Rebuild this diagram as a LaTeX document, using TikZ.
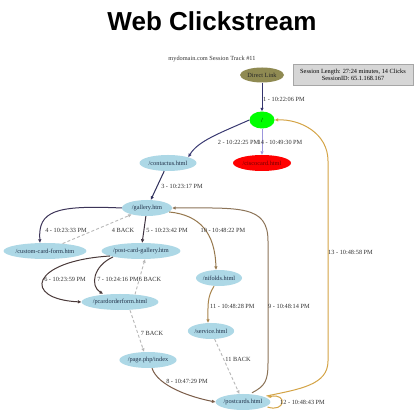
\documentclass[tikz,border=0pt]{standalone}
\usepackage{fontspec}
\setmainfont{Liberation Serif}
\newfontfamily\titlefont{Liberation Sans}
\usetikzlibrary{shapes.geometric,arrows.meta}
\definecolor{lb}{HTML}{ADD8E6}
\definecolor{pgtext}{HTML}{203048}
\definecolor{olivenode}{HTML}{8F8A52}
\definecolor{navy1}{HTML}{34346E}
\definecolor{navy2}{HTML}{3A3A72}
\definecolor{navy3}{HTML}{30305C}
\definecolor{purp4}{HTML}{3C3458}
\definecolor{dark5}{HTML}{3E3240}
\definecolor{brown6}{HTML}{4A3A3A}
\definecolor{brown8}{HTML}{7A5C48}
\definecolor{tan9}{HTML}{8C7458}
\definecolor{tan10}{HTML}{96784E}
\definecolor{gold11}{HTML}{A8844C}
\definecolor{gold12}{HTML}{D4A446}
\definecolor{lav}{HTML}{9C96DC}
\definecolor{backgray}{HTML}{B8B8B8}
\definecolor{boxgray}{HTML}{D6D6D6}
\begin{document}
\begin{tikzpicture}[x=1pt,y=1pt,
  pg/.style={ellipse, fill=lb, inner sep=0pt, minimum height=16pt, font=\fontsize{6.3}{7}\selectfont, text=pgtext},
  lbl/.style={font=\fontsize{6.3}{7}\selectfont, inner sep=0pt, text=black!80},
  edge/.style={line width=1pt, -{Triangle[length=3.5pt,width=3pt]}},
  back/.style={line width=0.9pt, dash pattern=on 3pt off 2.2pt, draw=backgray, -{Triangle[length=3.5pt,width=3pt]}},
]
\useasboundingbox (0,0) rectangle (414,411);
\fill[white] (0,0) rectangle (414,411);

% title and header
\node (title) at (212,390) {\titlefont\bfseries\fontsize{26}{30}\selectfont Web Clickstream};
\node[lbl] (track) at (212,352) {mydomain.com Session Track \#11};
\node[draw=gray!70, fill=boxgray, line width=0.6pt, minimum width=120pt, minimum height=21pt, inner sep=1pt, align=center, font=\fontsize{6.3}{7.2}\selectfont] (session) at (353,336.5) {Session Length: 27:24 minutes, 14 Clicks\\SessionID: 65.1.168.167};

% nodes
\node[ellipse, fill=olivenode, inner sep=0pt, minimum width=44pt, minimum height=15pt, font=\fontsize{6.3}{7}\selectfont, text=black!85] (direct) at (262,336) {Direct Link};
\node[ellipse, fill=green, inner sep=0pt, minimum width=25pt, minimum height=17pt, font=\fontsize{6.3}{7}\selectfont] (root) at (262,291) {/};
\node[ellipse, fill=red, inner sep=0pt, minimum width=58pt, minimum height=16pt, font=\fontsize{6.3}{7}\selectfont, text=red!45!black] (red) at (262,248) {/ciscocard.html};
\node[pg, minimum width=57pt] (contactus) at (168,248) {/contactus.html};
\node[pg, minimum width=50pt] (gallery) at (147,203) {/gallery.htm};
\node[pg, minimum width=78pt] (custom) at (45,160) {/custom-card-form.htm};
\node[pg, minimum width=66pt] (pcgallery) at (141,160) {/post-card-gallery.htm};
\node[pg, minimum width=46pt] (nifolds) at (219,133) {/nifolds.html};
\node[pg, minimum width=65pt] (pcard) at (120,109) {/pcardorderform.html};
\node[pg, minimum width=46pt] (service) at (211,80) {/service.html};
\node[pg, minimum width=55pt] (page) at (148,51) {/page.php/index};
\node[pg, minimum width=50pt] (postcards) at (243,9) {/postcards.html};

% connectors
\draw[edge, navy1] (direct) -- (root);
\draw[edge, navy2] (root.west) .. controls (220,278) and (198,270) .. (contactus.north east);
\draw[edge, lav, line width=0.8pt] (root) -- (red);
\draw[edge, navy3] (contactus) -- (gallery);
\draw[edge, purp4] (gallery.west) .. controls (55,206) and (38,200) .. ([xshift=-5pt]custom.north);
\draw[back] (custom) -- (gallery);
\draw[edge, dark5] (gallery) -- (pcgallery);
\draw[edge, brown6] ([xshift=-31pt,yshift=-5pt]pcgallery.center) .. controls (30,150) and (22,112) .. (pcard.west);
\draw[edge, brown6] ([xshift=-28pt,yshift=-6pt]pcgallery.center) .. controls (93,145) and (90,125) .. ([xshift=-17pt]pcard.north);
\draw[back] ([xshift=15pt,yshift=-0.5pt]pcard.north) -- ([xshift=4pt]pcgallery.south);
\draw[back] ([xshift=10pt]pcard.south) -- ([xshift=-4pt]page.north);
\draw[edge, brown8] ([xshift=4pt]page.south) .. controls (158,25) and (190,14) .. (postcards.west);
\draw[edge, tan9] ([xshift=9pt,yshift=1pt]postcards.north) .. controls (265,25) and (268,30) .. (268,48) -- (268,170) .. controls (268,206) and (240,203) .. (gallery.east);
\draw[edge, tan10] ([xshift=-3pt,yshift=-4pt]gallery.east) .. controls (200,196) and (215,178) .. ([xshift=-3pt]nifolds.north);
\draw[edge, gold11] ([xshift=-5pt]nifolds.south) .. controls (207,114) and (208,105) .. ([xshift=-3pt]service.north);
\draw[back] (service) -- (postcards);
\draw[edge, gold12] ([xshift=-3pt,yshift=-5pt]postcards.east) .. controls (285,-2) and (288,18) .. ([xshift=-3pt,yshift=5pt]postcards.east);
\draw[edge, gold12] ([xshift=-4pt,yshift=6pt]postcards.east) .. controls (300,22) and (328,26) .. (328,50) -- (328,250) .. controls (328,278) and (300,292) .. (root.east);

% labels
\node[lbl, anchor=west] (l1) at (263,312) {1 - 10:22:06 PM};
\node[lbl, anchor=east] (l2) at (259.5,269) {2 - 10:22:25 PM};
\node[lbl, anchor=west] (l14) at (257.5,269) {14 - 10:49:30 PM};
\node[lbl] (l3) at (182,225) {3 - 10:23:17 PM};
\node[lbl] (l4) at (66,181) {4 - 10:23:33 PM};
\node[lbl] (l4b) at (123,181) {4 BACK};
\node[lbl] (l5) at (167,181) {5 - 10:23:42 PM};
\node[lbl] (l10) at (223,181) {10 - 10:48:22 PM};
\node[lbl, anchor=west] (l13) at (328,159) {13 - 10:48:58 PM};
\node[lbl] (l6) at (65,132) {6 - 10:23:59 PM};
\node[lbl] (l7) at (118,132) {7 - 10:24:16 PM};
\node[lbl] (l6b) at (150,132) {6 BACK};
\node[lbl, anchor=west] (l11) at (210,105) {11 - 10:48:28 PM};
\node[lbl, anchor=west] (l9) at (268,105) {9 - 10:48:14 PM};
\node[lbl] (l7b) at (152,78) {7 BACK};
\node[lbl] (l11b) at (238,52) {11 BACK};
\node[lbl] (l8) at (187,30) {8 - 10:47:29 PM};
\node[lbl, anchor=west] (l12) at (280,9) {12 - 10:48:43 PM};
\end{tikzpicture}
\end{document}
